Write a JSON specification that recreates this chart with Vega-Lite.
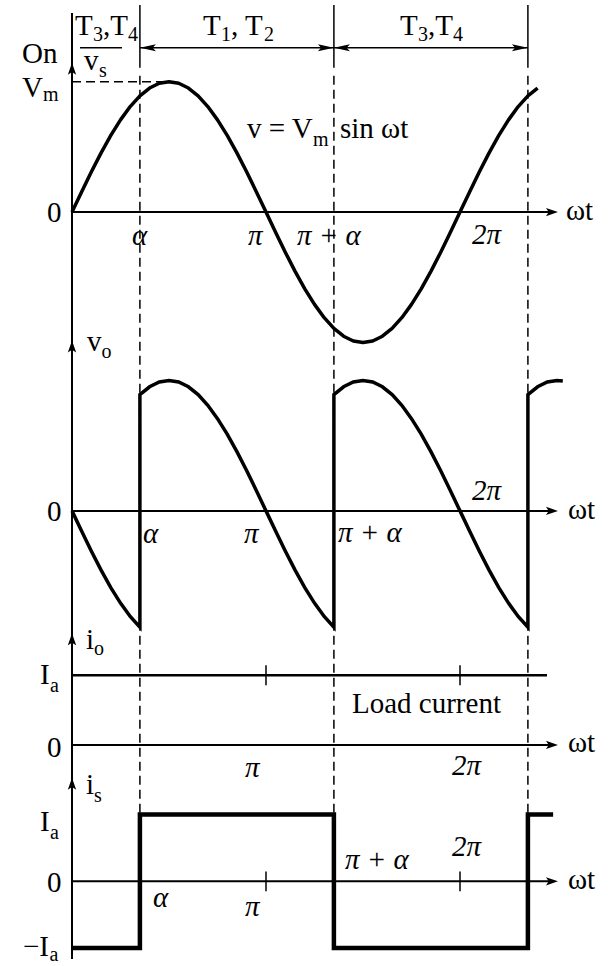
{
  "$schema": "https://vega.github.io/schema/vega-lite/v6.json",
  "width": 608,
  "height": 966,
  "autosize": {"type": "fit", "contains": "padding"},
  "padding": 0,
  "background": "white",
  "config": {"view": {"stroke": null}, "text": {"font": "'Liberation Serif', 'Times New Roman', serif"}},
  "datasets": {
    "vs": [
      {"x":0,"y":0},{"x":0.05,"y":0.1564},{"x":0.1,"y":0.309},{"x":0.15,"y":0.454},{"x":0.2,"y":0.5878},{"x":0.25,"y":0.7071},{"x":0.3,"y":0.809},{"x":0.35,"y":0.891},{"x":0.4,"y":0.9511},{"x":0.45,"y":0.9877},{"x":0.5,"y":1},{"x":0.55,"y":0.9877},{"x":0.6,"y":0.9511},{"x":0.65,"y":0.891},{"x":0.7,"y":0.809},{"x":0.75,"y":0.7071},{"x":0.8,"y":0.5878},{"x":0.85,"y":0.454},{"x":0.9,"y":0.309},{"x":0.95,"y":0.1564},{"x":1,"y":0},{"x":1.05,"y":-0.1564},{"x":1.1,"y":-0.309},{"x":1.15,"y":-0.454},{"x":1.2,"y":-0.5878},{"x":1.25,"y":-0.7071},{"x":1.3,"y":-0.809},{"x":1.35,"y":-0.891},{"x":1.4,"y":-0.9511},{"x":1.45,"y":-0.9877},{"x":1.5,"y":-1},{"x":1.55,"y":-0.9877},{"x":1.6,"y":-0.9511},{"x":1.65,"y":-0.891},{"x":1.7,"y":-0.809},{"x":1.75,"y":-0.7071},{"x":1.8,"y":-0.5878},{"x":1.85,"y":-0.454},{"x":1.9,"y":-0.309},{"x":1.95,"y":-0.1564},{"x":2,"y":0},{"x":2.05,"y":0.1564},{"x":2.1,"y":0.309},{"x":2.15,"y":0.454},{"x":2.2,"y":0.5878},{"x":2.25,"y":0.7071},{"x":2.3,"y":0.809},{"x":2.35,"y":0.891},{"x":2.4,"y":0.9511}
    ],
    "vo": [
      {"n":0,"x":0,"y":0},{"n":1,"x":0.05,"y":-0.1564},{"n":2,"x":0.1,"y":-0.309},{"n":3,"x":0.15,"y":-0.454},{"n":4,"x":0.2,"y":-0.5878},{"n":5,"x":0.25,"y":-0.7071},{"n":6,"x":0.3,"y":-0.809},{"n":7,"x":0.35,"y":-0.891},
      {"n":8,"x":0.35,"y":0.891},{"n":9,"x":0.4,"y":0.9511},{"n":10,"x":0.45,"y":0.9877},{"n":11,"x":0.5,"y":1},{"n":12,"x":0.55,"y":0.9877},{"n":13,"x":0.6,"y":0.9511},{"n":14,"x":0.65,"y":0.891},{"n":15,"x":0.7,"y":0.809},{"n":16,"x":0.75,"y":0.7071},{"n":17,"x":0.8,"y":0.5878},{"n":18,"x":0.85,"y":0.454},{"n":19,"x":0.9,"y":0.309},{"n":20,"x":0.95,"y":0.1564},{"n":21,"x":1,"y":0},{"n":22,"x":1.05,"y":-0.1564},{"n":23,"x":1.1,"y":-0.309},{"n":24,"x":1.15,"y":-0.454},{"n":25,"x":1.2,"y":-0.5878},{"n":26,"x":1.25,"y":-0.7071},{"n":27,"x":1.3,"y":-0.809},{"n":28,"x":1.35,"y":-0.891},
      {"n":29,"x":1.35,"y":0.891},{"n":30,"x":1.4,"y":0.9511},{"n":31,"x":1.45,"y":0.9877},{"n":32,"x":1.5,"y":1},{"n":33,"x":1.55,"y":0.9877},{"n":34,"x":1.6,"y":0.9511},{"n":35,"x":1.65,"y":0.891},{"n":36,"x":1.7,"y":0.809},{"n":37,"x":1.75,"y":0.7071},{"n":38,"x":1.8,"y":0.5878},{"n":39,"x":1.85,"y":0.454},{"n":40,"x":1.9,"y":0.309},{"n":41,"x":1.95,"y":0.1564},{"n":42,"x":2,"y":0},{"n":43,"x":2.05,"y":-0.1564},{"n":44,"x":2.1,"y":-0.309},{"n":45,"x":2.15,"y":-0.454},{"n":46,"x":2.2,"y":-0.5878},{"n":47,"x":2.25,"y":-0.7071},{"n":48,"x":2.3,"y":-0.809},{"n":49,"x":2.35,"y":-0.891},
      {"n":50,"x":2.35,"y":0.891},{"n":51,"x":2.4,"y":0.9511},{"n":52,"x":2.45,"y":0.9877},{"n":53,"x":2.5,"y":1},{"n":54,"x":2.53,"y":0.9956}
    ],
    "is": [
      {"n":0,"x":0,"y":-1},{"n":1,"x":0.35,"y":-1},{"n":2,"x":0.35,"y":1},{"n":3,"x":1.35,"y":1},{"n":4,"x":1.35,"y":-1},{"n":5,"x":2.35,"y":-1},{"n":6,"x":2.35,"y":1},{"n":7,"x":2.48,"y":1}
    ]
  },
  "layer": [
    {
      "layer": [
        {
          "data": {"values": [{"x":0,"y":1.5267,"y2":-5.7252}]},
          "mark": {"type":"rule","strokeWidth":2,"color":"black"},
          "encoding": {
            "x": {"field":"x","type":"quantitative","scale":{"domain":[-0.371134,2.762887],"nice":false,"zero":false},"axis":null},
            "y": {"field":"y","type":"quantitative","scale":{"domain":[-5.74809,1.62595],"nice":false,"zero":false},"axis":null},
            "y2": {"field":"y2"}
          }
        },
        {
          "data": {"values": [{"x":0.35,"y":1.5878,"y2":1.1069},{"x":1.35,"y":1.5878,"y2":1.1069},{"x":2.35,"y":1.5878,"y2":1.1069}]},
          "mark": {"type":"rule","strokeWidth":1.5,"color":"black"},
          "encoding": {
            "x": {"field":"x","type":"quantitative","scale":{"domain":[-0.371134,2.762887],"nice":false,"zero":false},"axis":null},
            "y": {"field":"y","type":"quantitative","scale":{"domain":[-5.74809,1.62595],"nice":false,"zero":false},"axis":null},
            "y2": {"field":"y2"}
          }
        },
        {
          "data": {"values": [{"x":0.35,"y":1.0458,"y2":-4.6183},{"x":1.35,"y":1.0458,"y2":-4.6183},{"x":2.35,"y":1.0458,"y2":-4.6183}]},
          "mark": {"type":"rule","strokeWidth":1.5,"color":"black","strokeDash":[9,5]},
          "encoding": {
            "x": {"field":"x","type":"quantitative","scale":{"domain":[-0.371134,2.762887],"nice":false,"zero":false},"axis":null},
            "y": {"field":"y","type":"quantitative","scale":{"domain":[-5.74809,1.62595],"nice":false,"zero":false},"axis":null},
            "y2": {"field":"y2"}
          }
        },
        {
          "data": {"values": [{"x":0.35,"x2":2.35,"y":1.2595},{"x":0.0412,"x2":0.2577,"y":1.2595}]},
          "mark": {"type":"rule","strokeWidth":1.5,"color":"black"},
          "encoding": {
            "x": {"field":"x","type":"quantitative","scale":{"domain":[-0.371134,2.762887],"nice":false,"zero":false},"axis":null},
            "x2": {"field":"x2"},
            "y": {"field":"y","type":"quantitative","scale":{"domain":[-5.74809,1.62595],"nice":false,"zero":false},"axis":null}
          }
        },
        {
          "data": {"values": [{"x":0,"x2":2.48,"y":0}]},
          "mark": {"type":"rule","strokeWidth":2,"color":"black"},
          "encoding": {
            "x": {"field":"x","type":"quantitative","scale":{"domain":[-0.371134,2.762887],"nice":false,"zero":false},"axis":null},
            "x2": {"field":"x2"},
            "y": {"field":"y","type":"quantitative","scale":{"domain":[-5.74809,1.62595],"nice":false,"zero":false},"axis":null}
          }
        },
        {
          "data": {"values": [{"x":0,"x2":0.47,"y":1}]},
          "mark": {"type":"rule","strokeWidth":1.5,"color":"black","strokeDash":[9,5]},
          "encoding": {
            "x": {"field":"x","type":"quantitative","scale":{"domain":[-0.371134,2.762887],"nice":false,"zero":false},"axis":null},
            "x2": {"field":"x2"},
            "y": {"field":"y","type":"quantitative","scale":{"domain":[-5.74809,1.62595],"nice":false,"zero":false},"axis":null}
          }
        },
        {
          "data": {"values": [{"x":2.505,"y":0,"dir":"ar"},{"x":0,"y":1.145,"dir":"au"},{"x":0.35,"y":1.2595,"dir":"hl"},{"x":1.35,"y":1.2595,"dir":"hr"},{"x":1.35,"y":1.2595,"dir":"hl"},{"x":2.35,"y":1.2595,"dir":"hr"}]},
          "mark": {"type":"point","filled":true,"opacity":1,"color":"black","strokeWidth":0,"size":1024},
          "encoding": {
            "x": {"field":"x","type":"quantitative","scale":{"domain":[-0.371134,2.762887],"nice":false,"zero":false},"axis":null},
            "y": {"field":"y","type":"quantitative","scale":{"domain":[-5.74809,1.62595],"nice":false,"zero":false},"axis":null},
            "shape": {"field":"dir","type":"nominal","legend":null,"scale":{"domain":["ar","au","hl","hr"],"range":["M0,0L-0.75,-0.26L-0.58,0L-0.75,0.26Z","M0,0L-0.26,0.75L0,0.58L0.26,0.75Z","M0,0L1,-0.22L0.8,0L1,0.22Z","M0,0L-1,-0.22L-0.8,0L-1,0.22Z"]}}
          }
        },
        {
          "data": {"name": "vs"},
          "mark": {"type":"line","strokeWidth":3.5,"color":"black","strokeJoin":"round"},
          "encoding": {
            "x": {"field":"x","type":"quantitative","scale":{"domain":[-0.371134,2.762887],"nice":false,"zero":false},"axis":null},
            "y": {"field":"y","type":"quantitative","scale":{"domain":[-5.74809,1.62595],"nice":false,"zero":false},"axis":null}
          }
        },
        {
          "data": {"values": [
            {"x":0.0155,"y":1.3588,"t":"T"},{"x":0.1598,"y":1.3588,"t":",T"},
            {"x":0.6753,"y":1.3588,"t":"T"},{"x":0.8196,"y":1.3588,"t":", T"},
            {"x":1.6907,"y":1.3588,"t":"T"},{"x":1.8351,"y":1.3588,"t":",T"},
            {"x":-0.2577,"y":1.145,"t":"On"},{"x":-0.2577,"y":0.8855,"t":"V"},
            {"x":0.0619,"y":1.0916,"t":"v"},{"x":-0.1289,"y":-0.0763,"t":"0"},
            {"x":0.9021,"y":0.5649,"t":"v = V"},{"x":1.3814,"y":0.5649,"t":"sin ωt"},
            {"x":2.5464,"y":-0.0611,"t":"ωt"}
          ]},
          "mark": {"type":"text","align":"left","baseline":"alphabetic","fontSize":29,"color":"black"},
          "encoding": {
            "x": {"field":"x","type":"quantitative","scale":{"domain":[-0.371134,2.762887],"nice":false,"zero":false},"axis":null},
            "y": {"field":"y","type":"quantitative","scale":{"domain":[-5.74809,1.62595],"nice":false,"zero":false},"axis":null},
            "text": {"field":"t"}
          }
        },
        {
          "data": {"values": [
            {"x":0.1082,"y":1.313,"t":"3"},{"x":0.2887,"y":1.313,"t":"4"},
            {"x":0.768,"y":1.313,"t":"1"},{"x":0.9897,"y":1.313,"t":"2"},
            {"x":1.7835,"y":1.313,"t":"3"},{"x":1.9639,"y":1.313,"t":"4"},
            {"x":-0.1495,"y":0.855,"t":"m"},{"x":0.1392,"y":1.0382,"t":"s"},
            {"x":1.2423,"y":0.5038,"t":"m"}
          ]},
          "mark": {"type":"text","align":"left","baseline":"alphabetic","fontSize":20,"color":"black"},
          "encoding": {
            "x": {"field":"x","type":"quantitative","scale":{"domain":[-0.371134,2.762887],"nice":false,"zero":false},"axis":null},
            "y": {"field":"y","type":"quantitative","scale":{"domain":[-5.74809,1.62595],"nice":false,"zero":false},"axis":null},
            "text": {"field":"t"}
          }
        },
        {
          "data": {"values": [
            {"x":0.3093,"y":-0.2519,"t":"α"},{"x":0.9072,"y":-0.2519,"t":"π"},
            {"x":1.1598,"y":-0.2519,"t":"π + α"},{"x":2.0619,"y":-0.2443,"t":"2π"}
          ]},
          "mark": {"type":"text","align":"left","baseline":"alphabetic","fontSize":29,"fontStyle":"italic","color":"black"},
          "encoding": {
            "x": {"field":"x","type":"quantitative","scale":{"domain":[-0.371134,2.762887],"nice":false,"zero":false},"axis":null},
            "y": {"field":"y","type":"quantitative","scale":{"domain":[-5.74809,1.62595],"nice":false,"zero":false},"axis":null},
            "text": {"field":"t"}
          }
        }
      ]
    },
    {
      "layer": [
        {
          "data": {"values": [{"x":0,"x2":2.48,"y":0}]},
          "mark": {"type":"rule","strokeWidth":2,"color":"black"},
          "encoding": {
            "x": {"field":"x","type":"quantitative","scale":{"domain":[-0.371134,2.762887],"nice":false,"zero":false},"axis":null},
            "x2": {"field":"x2"},
            "y": {"field":"y","type":"quantitative","scale":{"domain":[-3.45802,3.91603],"nice":false,"zero":false},"axis":null}
          }
        },
        {
          "data": {"values": [{"x":2.505,"y":0,"dir":"ar"},{"x":0,"y":1.3053,"dir":"au"}]},
          "mark": {"type":"point","filled":true,"opacity":1,"color":"black","strokeWidth":0,"size":1024},
          "encoding": {
            "x": {"field":"x","type":"quantitative","scale":{"domain":[-0.371134,2.762887],"nice":false,"zero":false},"axis":null},
            "y": {"field":"y","type":"quantitative","scale":{"domain":[-3.45802,3.91603],"nice":false,"zero":false},"axis":null},
            "shape": {"field":"dir","type":"nominal","legend":null,"scale":{"domain":["ar","au","hl","hr"],"range":["M0,0L-0.75,-0.26L-0.58,0L-0.75,0.26Z","M0,0L-0.26,0.75L0,0.58L0.26,0.75Z","M0,0L1,-0.22L0.8,0L1,0.22Z","M0,0L-1,-0.22L-0.8,0L-1,0.22Z"]}}
          }
        },
        {
          "data": {"name": "vo"},
          "mark": {"type":"line","strokeWidth":3.5,"color":"black","strokeJoin":"miter"},
          "encoding": {
            "x": {"field":"x","type":"quantitative","scale":{"domain":[-0.371134,2.762887],"nice":false,"zero":false},"axis":null},
            "y": {"field":"y","type":"quantitative","scale":{"domain":[-3.45802,3.91603],"nice":false,"zero":false},"axis":null},
            "order": {"field":"n","type":"quantitative"}
          }
        },
        {
          "data": {"values": [
            {"x":0.0773,"y":1.229,"t":"v"},{"x":-0.1289,"y":-0.0763,"t":"0"},
            {"x":2.5567,"y":-0.0611,"t":"ωt"}
          ]},
          "mark": {"type":"text","align":"left","baseline":"alphabetic","fontSize":29,"color":"black"},
          "encoding": {
            "x": {"field":"x","type":"quantitative","scale":{"domain":[-0.371134,2.762887],"nice":false,"zero":false},"axis":null},
            "y": {"field":"y","type":"quantitative","scale":{"domain":[-3.45802,3.91603],"nice":false,"zero":false},"axis":null},
            "text": {"field":"t"}
          }
        },
        {
          "data": {"values": [{"x":0.1521,"y":1.1756,"t":"o"}]},
          "mark": {"type":"text","align":"left","baseline":"alphabetic","fontSize":20,"color":"black"},
          "encoding": {
            "x": {"field":"x","type":"quantitative","scale":{"domain":[-0.371134,2.762887],"nice":false,"zero":false},"axis":null},
            "y": {"field":"y","type":"quantitative","scale":{"domain":[-3.45802,3.91603],"nice":false,"zero":false},"axis":null},
            "text": {"field":"t"}
          }
        },
        {
          "data": {"values": [
            {"x":0.366,"y":-0.2443,"t":"α"},{"x":0.8866,"y":-0.2443,"t":"π"},
            {"x":1.3711,"y":-0.2366,"t":"π + α"},{"x":2.0619,"y":0.084,"t":"2π"}
          ]},
          "mark": {"type":"text","align":"left","baseline":"alphabetic","fontSize":29,"fontStyle":"italic","color":"black"},
          "encoding": {
            "x": {"field":"x","type":"quantitative","scale":{"domain":[-0.371134,2.762887],"nice":false,"zero":false},"axis":null},
            "y": {"field":"y","type":"quantitative","scale":{"domain":[-3.45802,3.91603],"nice":false,"zero":false},"axis":null},
            "text": {"field":"t"}
          }
        }
      ]
    },
    {
      "layer": [
        {
          "data": {"values": [{"x":0,"x2":2.48,"y":0}]},
          "mark": {"type":"rule","strokeWidth":2,"color":"black"},
          "encoding": {
            "x": {"field":"x","type":"quantitative","scale":{"domain":[-0.371134,2.762887],"nice":false,"zero":false},"axis":null},
            "x2": {"field":"x2"},
            "y": {"field":"y","type":"quantitative","scale":{"domain":[-3.11429,10.68571],"nice":false,"zero":false},"axis":null}
          }
        },
        {
          "data": {"values": [{"x":0,"x2":2.4485,"y":1}]},
          "mark": {"type":"rule","strokeWidth":2.5,"color":"black"},
          "encoding": {
            "x": {"field":"x","type":"quantitative","scale":{"domain":[-0.371134,2.762887],"nice":false,"zero":false},"axis":null},
            "x2": {"field":"x2"},
            "y": {"field":"y","type":"quantitative","scale":{"domain":[-3.11429,10.68571],"nice":false,"zero":false},"axis":null}
          }
        },
        {
          "data": {"values": [{"x":1,"y":1.1429,"y2":0.8571},{"x":2,"y":1.1429,"y2":0.8571}]},
          "mark": {"type":"rule","strokeWidth":1.5,"color":"black"},
          "encoding": {
            "x": {"field":"x","type":"quantitative","scale":{"domain":[-0.371134,2.762887],"nice":false,"zero":false},"axis":null},
            "y": {"field":"y","type":"quantitative","scale":{"domain":[-3.11429,10.68571],"nice":false,"zero":false},"axis":null},
            "y2": {"field":"y2"}
          }
        },
        {
          "data": {"values": [{"x":2.505,"y":0,"dir":"ar"},{"x":0,"y":1.6,"dir":"au"}]},
          "mark": {"type":"point","filled":true,"opacity":1,"color":"black","strokeWidth":0,"size":1024},
          "encoding": {
            "x": {"field":"x","type":"quantitative","scale":{"domain":[-0.371134,2.762887],"nice":false,"zero":false},"axis":null},
            "y": {"field":"y","type":"quantitative","scale":{"domain":[-3.11429,10.68571],"nice":false,"zero":false},"axis":null},
            "shape": {"field":"dir","type":"nominal","legend":null,"scale":{"domain":["ar","au","hl","hr"],"range":["M0,0L-0.75,-0.26L-0.58,0L-0.75,0.26Z","M0,0L-0.26,0.75L0,0.58L0.26,0.75Z","M0,0L1,-0.22L0.8,0L1,0.22Z","M0,0L-1,-0.22L-0.8,0L-1,0.22Z"]}}
          }
        },
        {
          "data": {"values": [
            {"x":0.0722,"y":1.3714,"t":"i"},{"x":-0.1649,"y":0.8714,"t":"I"},
            {"x":-0.1289,"y":-0.1714,"t":"0"},{"x":1.4433,"y":0.4571,"t":"Load current"},
            {"x":2.5567,"y":-0.1,"t":"ωt"},{"x":0.0722,"y":-0.7,"t":"i"}
          ]},
          "mark": {"type":"text","align":"left","baseline":"alphabetic","fontSize":29,"color":"black"},
          "encoding": {
            "x": {"field":"x","type":"quantitative","scale":{"domain":[-0.371134,2.762887],"nice":false,"zero":false},"axis":null},
            "y": {"field":"y","type":"quantitative","scale":{"domain":[-3.11429,10.68571],"nice":false,"zero":false},"axis":null},
            "text": {"field":"t"}
          }
        },
        {
          "data": {"values": [
            {"x":0.1134,"y":1.2857,"t":"o"},{"x":-0.1134,"y":0.7571,"t":"a"},
            {"x":0.1134,"y":-0.8143,"t":"s"}
          ]},
          "mark": {"type":"text","align":"left","baseline":"alphabetic","fontSize":20,"color":"black"},
          "encoding": {
            "x": {"field":"x","type":"quantitative","scale":{"domain":[-0.371134,2.762887],"nice":false,"zero":false},"axis":null},
            "y": {"field":"y","type":"quantitative","scale":{"domain":[-3.11429,10.68571],"nice":false,"zero":false},"axis":null},
            "text": {"field":"t"}
          }
        },
        {
          "data": {"values": [
            {"x":0.8918,"y":-0.4571,"t":"π"},{"x":1.9588,"y":-0.4286,"t":"2π"}
          ]},
          "mark": {"type":"text","align":"left","baseline":"alphabetic","fontSize":29,"fontStyle":"italic","color":"black"},
          "encoding": {
            "x": {"field":"x","type":"quantitative","scale":{"domain":[-0.371134,2.762887],"nice":false,"zero":false},"axis":null},
            "y": {"field":"y","type":"quantitative","scale":{"domain":[-3.11429,10.68571],"nice":false,"zero":false},"axis":null},
            "text": {"field":"t"}
          }
        }
      ]
    },
    {
      "layer": [
        {
          "data": {"values": [{"x":0,"x2":2.48,"y":0}]},
          "mark": {"type":"rule","strokeWidth":2,"color":"black"},
          "encoding": {
            "x": {"field":"x","type":"quantitative","scale":{"domain":[-0.371134,2.762887],"nice":false,"zero":false},"axis":null},
            "x2": {"field":"x2"},
            "y": {"field":"y","type":"quantitative","scale":{"domain":[-1.20896,13.20896],"nice":false,"zero":false},"axis":null}
          }
        },
        {
          "data": {"values": [{"x":1,"y":0.149,"y2":-0.149},{"x":2,"y":0.149,"y2":-0.149}]},
          "mark": {"type":"rule","strokeWidth":1.5,"color":"black"},
          "encoding": {
            "x": {"field":"x","type":"quantitative","scale":{"domain":[-0.371134,2.762887],"nice":false,"zero":false},"axis":null},
            "y": {"field":"y","type":"quantitative","scale":{"domain":[-1.20896,13.20896],"nice":false,"zero":false},"axis":null},
            "y2": {"field":"y2"}
          }
        },
        {
          "data": {"values": [{"x":2.505,"y":0,"dir":"ar"},{"x":0,"y":1.5522,"dir":"au"}]},
          "mark": {"type":"point","filled":true,"opacity":1,"color":"black","strokeWidth":0,"size":1024},
          "encoding": {
            "x": {"field":"x","type":"quantitative","scale":{"domain":[-0.371134,2.762887],"nice":false,"zero":false},"axis":null},
            "y": {"field":"y","type":"quantitative","scale":{"domain":[-1.20896,13.20896],"nice":false,"zero":false},"axis":null},
            "shape": {"field":"dir","type":"nominal","legend":null,"scale":{"domain":["ar","au","hl","hr"],"range":["M0,0L-0.75,-0.26L-0.58,0L-0.75,0.26Z","M0,0L-0.26,0.75L0,0.58L0.26,0.75Z","M0,0L1,-0.22L0.8,0L1,0.22Z","M0,0L-1,-0.22L-0.8,0L-1,0.22Z"]}}
          }
        },
        {
          "data": {"name": "is"},
          "mark": {"type":"line","strokeWidth":4.5,"color":"black","strokeJoin":"miter"},
          "encoding": {
            "x": {"field":"x","type":"quantitative","scale":{"domain":[-0.371134,2.762887],"nice":false,"zero":false},"axis":null},
            "y": {"field":"y","type":"quantitative","scale":{"domain":[-1.20896,13.20896],"nice":false,"zero":false},"axis":null},
            "order": {"field":"n","type":"quantitative"}
          }
        },
        {
          "data": {"values": [
            {"x":-0.1649,"y":0.7612,"t":"I"},{"x":-0.1289,"y":-0.1642,"t":"0"},
            {"x":-0.2526,"y":-1.1194,"t":"−I"},{"x":2.5567,"y":-0.1194,"t":"ωt"}
          ]},
          "mark": {"type":"text","align":"left","baseline":"alphabetic","fontSize":29,"color":"black"},
          "encoding": {
            "x": {"field":"x","type":"quantitative","scale":{"domain":[-0.371134,2.762887],"nice":false,"zero":false},"axis":null},
            "y": {"field":"y","type":"quantitative","scale":{"domain":[-1.20896,13.20896],"nice":false,"zero":false},"axis":null},
            "text": {"field":"t"}
          }
        },
        {
          "data": {"values": [
            {"x":-0.1134,"y":0.6418,"t":"a"},{"x":-0.116,"y":-1.2,"t":"a"}
          ]},
          "mark": {"type":"text","align":"left","baseline":"alphabetic","fontSize":20,"color":"black"},
          "encoding": {
            "x": {"field":"x","type":"quantitative","scale":{"domain":[-0.371134,2.762887],"nice":false,"zero":false},"axis":null},
            "y": {"field":"y","type":"quantitative","scale":{"domain":[-1.20896,13.20896],"nice":false,"zero":false},"axis":null},
            "text": {"field":"t"}
          }
        },
        {
          "data": {"values": [
            {"x":0.4175,"y":-0.3881,"t":"α"},{"x":0.8918,"y":-0.5224,"t":"π"},
            {"x":1.4072,"y":0.1791,"t":"π + α"},{"x":1.9588,"y":0.3731,"t":"2π"}
          ]},
          "mark": {"type":"text","align":"left","baseline":"alphabetic","fontSize":29,"fontStyle":"italic","color":"black"},
          "encoding": {
            "x": {"field":"x","type":"quantitative","scale":{"domain":[-0.371134,2.762887],"nice":false,"zero":false},"axis":null},
            "y": {"field":"y","type":"quantitative","scale":{"domain":[-1.20896,13.20896],"nice":false,"zero":false},"axis":null},
            "text": {"field":"t"}
          }
        }
      ]
    }
  ],
  "resolve": {"scale": {"y": "independent"}}
}
